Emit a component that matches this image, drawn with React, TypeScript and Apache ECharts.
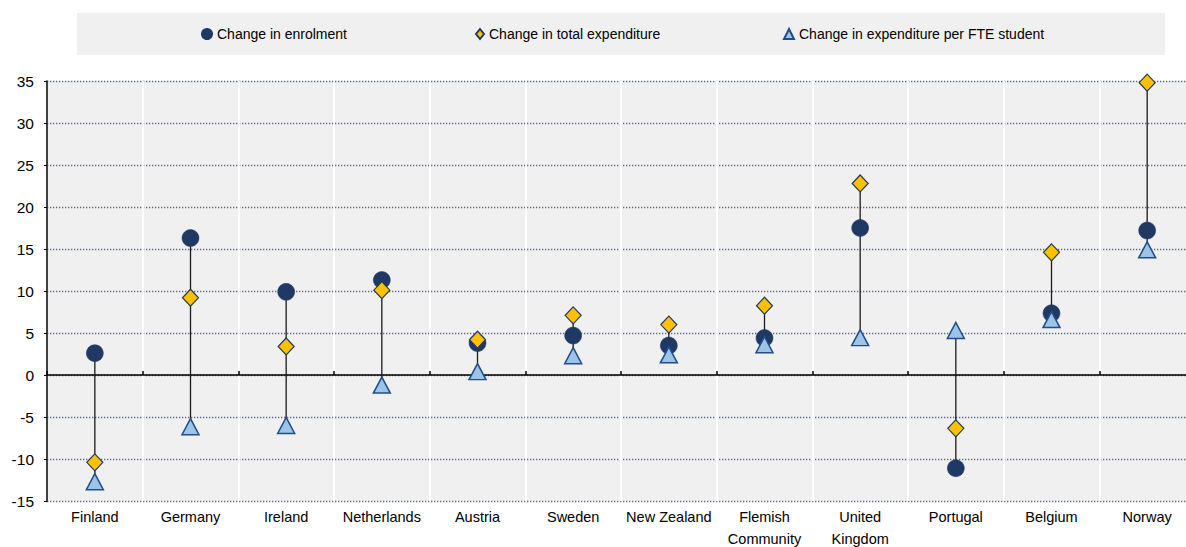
import React, { useEffect, useRef } from "react";
import * as echarts from "echarts";

const categories = [
  "Finland", "Germany", "Ireland", "Netherlands", "Austria", "Sweden",
  "New Zealand", "Flemish\nCommunity", "United\nKingdom", "Portugal", "Belgium", "Norway",
];
const enrolment = [2.6, 16.3, 9.9, 11.3, 3.8, 4.7, 3.5, 4.4, 17.5, -11.1, 7.35, 17.2];
const totalExpenditure = [-10.4, 9.2, 3.4, 10.1, 4.2, 7.1, 6.0, 8.25, 22.8, -6.35, 14.6, 34.8];
const perStudent = [-12.7, -6.15, -6.0, -1.2, 0.4, 2.3, 2.4, 3.6, 4.45, 5.3, 6.6, 14.9];

const seriesNames = [
  "Change in enrolment",
  "Change in total expenditure",
  "Change in expenditure per FTE student",
];

const FONT = '"Liberation Sans", Arial, sans-serif';

export default function App() {
  const ref = useRef<HTMLDivElement>(null);
  useEffect(() => {
    if (!ref.current) return;
    const chart = echarts.init(ref.current, null, { renderer: "svg" });
    const ranges = categories.map((_, i) => {
      const vals = [enrolment[i], totalExpenditure[i], perStudent[i]];
      return [i, Math.min(...vals), Math.max(...vals)];
    });
    const legendBase = {
      top: 27,
      padding: 0,
      itemWidth: 10,
      itemHeight: 10,
      textStyle: { fontFamily: FONT, fontSize: 14, color: "#000", lineHeight: 14 },
      selectedMode: false,
    };
    chart.setOption({
      animation: false,
      textStyle: { fontFamily: FONT },
      graphic: [
        {
          type: "rect",
          shape: { x: 77, y: 13, width: 1088, height: 42 },
          style: { fill: "#f0f0f0" },
          z: -10,
        },
      ],
      legend: [
        { ...legendBase, left: 201, data: [{ name: seriesNames[0], icon: "circle" }] },
        { ...legendBase, left: 475, itemWidth: 8, data: [{ name: seriesNames[1], icon: "diamond" }] },
        { ...legendBase, left: 783, data: [{ name: seriesNames[2], icon: "triangle" }] },
      ],
      grid: {
        left: 47,
        top: 81,
        width: 1148,
        bottom: 46,
        show: true,
        backgroundColor: "#f0f0f0",
        borderWidth: 0,
        containLabel: false,
        outerBoundsMode: "none",
      },
      xAxis: [
        {
          type: "category",
          data: categories,
          position: "bottom",
          boundaryGap: true,
          axisLine: { show: false, onZero: false },
          axisTick: { show: false },
          splitLine: { show: true, lineStyle: { color: "#ffffff", width: 2 } },
          axisLabel: {
            fontFamily: FONT,
            fontSize: 14.5,
            color: "#000",
            margin: 5,
            lineHeight: 22,
            interval: 0,
          },
        },
        {
          type: "category",
          data: categories,
          position: "top",
          boundaryGap: true,
          axisLine: { show: true, onZero: true, lineStyle: { color: "#000", width: 1.5 } },
          axisTick: { show: true, inside: false, length: 4, lineStyle: { color: "#000", width: 1.5 } },
          axisLabel: { show: false },
          splitLine: { show: false },
        },
      ],
      yAxis: {
        type: "value",
        min: -15,
        max: 35,
        interval: 5,
        axisLine: { show: true, onZero: false, lineStyle: { color: "#000", width: 1.5 } },
        axisTick: { show: true, length: 3, lineStyle: { color: "#000" } },
        splitLine: { show: true, lineStyle: { color: "#5b6b82", width: 1.3, type: [1.3, 1.7] } },
        axisLabel: { fontFamily: FONT, fontSize: 15.5, color: "#000", margin: 13 },
      },
      series: [
        {
          type: "custom",
          name: "range",
          xAxisIndex: 0,
          data: ranges,
          z: 1,
          renderItem: (params: any, api: any) => {
            const p1 = api.coord([api.value(0), api.value(1)]);
            const p2 = api.coord([api.value(0), api.value(2)]);
            return {
              type: "line",
              shape: { x1: p1[0], y1: p1[1], x2: p2[0], y2: p2[1] },
              style: { stroke: "#1a1a1a", lineWidth: 1.3 },
            };
          },
          silent: true,
        },
        {
          type: "scatter",
          name: seriesNames[0],
          data: enrolment,
          symbol: "circle",
          symbolSize: 17,
          itemStyle: { color: "#203864", borderColor: "#203864", borderWidth: 0.5, opacity: 1 },
          z: 2,
        },
        {
          type: "scatter",
          name: seriesNames[2],
          data: perStudent,
          symbol: "triangle",
          symbolSize: [17, 16],
          itemStyle: { color: "#9dc3e6", borderColor: "#1f4e8c", borderWidth: 1.5, opacity: 1 },
          z: 3,
        },
        {
          type: "scatter",
          name: seriesNames[1],
          data: totalExpenditure,
          symbol: "diamond",
          symbolSize: [16, 17],
          itemStyle: { color: "#ffc000", borderColor: "#1f3864", borderWidth: 1.2, opacity: 1 },
          z: 4,
        },
      ],
    });
    return () => chart.dispose();
  }, []);
  return (
    <div
      ref={ref}
      style={{ position: "absolute", left: 0, top: 0, width: 1186, height: 547 }}
    />
  );
}
